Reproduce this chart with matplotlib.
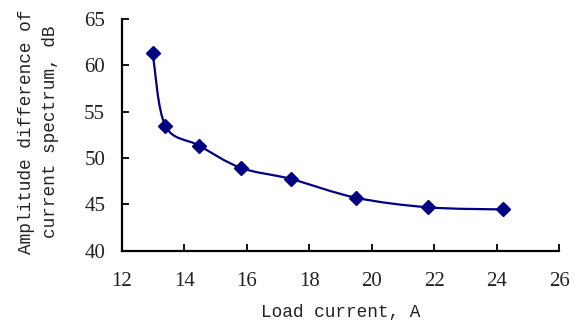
import numpy as np
import matplotlib
matplotlib.use("Agg")
import matplotlib.pyplot as plt
from matplotlib.path import Path
from matplotlib.patches import PathPatch

load_current = [12.99, 13.39, 14.47, 15.80, 17.40, 19.49, 21.81, 24.21]
amp_diff = [61.3, 53.5, 51.35, 48.95, 47.75, 45.72, 44.68, 44.45]
x_ticks = [12, 14, 16, 18, 20, 22, 24, 26]
y_ticks = [40, 45, 50, 55, 60, 65]

color = "#000080"
fig = plt.figure(figsize=(5.81, 3.25), dpi=100)
ax = fig.add_axes([121.8 / 581, 1 - 250.7 / 325, (559.3 - 121.8) / 581, (250.7 - 19) / 325])

# Excel-style smoothed line (cubic Bezier, Catmull-Rom tangents)
pts = np.column_stack([load_current, amp_diff])
n = len(pts)
verts = [tuple(pts[0])]
codes = [Path.MOVETO]
for i in range(n - 1):
    p0 = pts[max(i - 1, 0)]
    p1 = pts[i]
    p2 = pts[i + 1]
    p3 = pts[min(i + 2, n - 1)]
    c1 = p1 + (p2 - p0) / 6.0
    c2 = p2 - (p3 - p1) / 6.0
    verts += [tuple(c1), tuple(c2), tuple(p2)]
    codes += [Path.CURVE4] * 3
ax.add_patch(PathPatch(Path(verts, codes), facecolor="none", edgecolor=color, lw=1.6, zorder=2))
ax.plot(load_current, amp_diff, linestyle="none", marker="D", markersize=7.6,
        color=color, zorder=3, clip_on=False)

ax.set_xlim(12, 26)
ax.set_ylim(40, 65)
ax.set_xticks(x_ticks)
ax.set_yticks(y_ticks)
for s in ["top", "right"]:
    ax.spines[s].set_visible(False)
for s in ["left", "bottom"]:
    ax.spines[s].set_linewidth(1.6)
    ax.spines[s].set_color("black")
ax.tick_params(direction="in", length=5, width=1.3, colors="black", labelcolor="#222222")
ax.tick_params(axis="x", pad=15)
ax.tick_params(axis="y", pad=12)
for lab in ax.get_xticklabels() + ax.get_yticklabels():
    lab.set_fontfamily("Liberation Serif")
    lab.set_fontsize(15)

ax.set_xlabel("Load current, A", fontfamily="Liberation Mono", fontsize=12.8,
              color="#222222", labelpad=10)
fig.text(38.5 / 581, 1 - 132 / 325, "Amplitude difference of\ncurrent spectrum, dB",
         rotation=90, ha="center", va="center", multialignment="center",
         fontfamily="Liberation Mono", fontsize=12.8, color="#222222", linespacing=1.6)

fig.savefig("out.png", dpi=100)
